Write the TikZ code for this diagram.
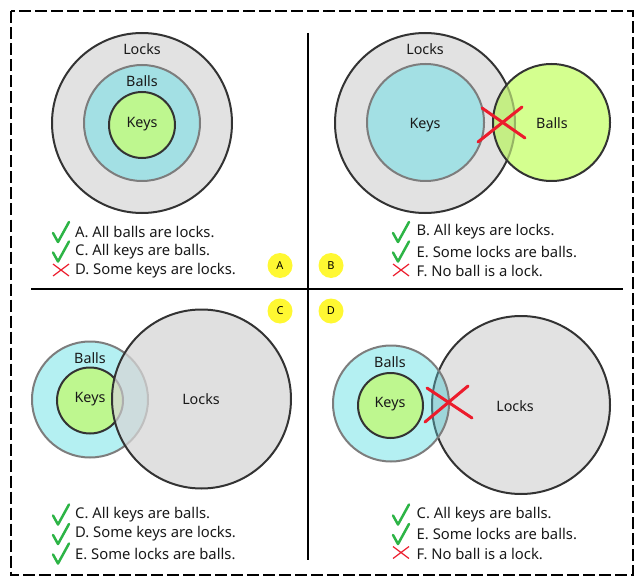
\documentclass[tikz,border=0pt]{standalone}
\usepackage{fontspec}
\setmainfont{Noto Sans}
\definecolor{lockgray}{RGB}{226,226,226}
\definecolor{lockgrayB}{RGB}{214,214,214}
\definecolor{darkline}{RGB}{51,51,51}
\definecolor{midline}{RGB}{125,125,125}
\definecolor{cyanA}{RGB}{163,224,228}
\definecolor{keygreen}{RGB}{190,247,143}
\definecolor{ballgreen}{RGB}{212,255,143}
\definecolor{ovgreen}{RGB}{196,238,132}
\definecolor{ovgreenline}{RGB}{150,180,100}
\definecolor{cyanB}{RGB}{180,240,242}
\definecolor{ovcyan}{RGB}{158,214,218}
\definecolor{ovcyanline}{RGB}{70,110,115}
\definecolor{xred}{RGB}{236,28,44}
\definecolor{chkgreen}{RGB}{45,180,70}
\definecolor{badgeyellow}{RGB}{255,248,50}
\definecolor{txt}{RGB}{25,25,25}
\begin{document}
\begin{tikzpicture}[x=1pt,y=-1pt,
  setc/.style={circle, inner sep=0pt, line width=2pt},
  lbl/.style={inner sep=0pt, text=txt, font=\fontsize{14.3}{16}\selectfont},
  item/.style={anchor=west, inner sep=0pt, text=txt, font=\fontsize{14.8}{17}\selectfont},
  badge/.style={circle, fill=badgeyellow, minimum size=25pt, inner sep=0pt, text=black, font=\bfseries\fontsize{11}{13}\selectfont},
  bigx/.style={xred, line width=3pt, line cap=round},
  divider/.style={black, line width=2pt},
  chk/.pic={\draw[chkgreen, line width=2.5pt, line cap=round, line join=round] (-8,2) -- (-3,11) -- (8,-9);},
  nox/.pic={\draw[xred, line width=1.2pt] (-8,-6) -- (8,6) (-8,6) -- (8,-6);}
]
\useasboundingbox (0,0) rectangle (644,585);
% border
\draw[black, line width=2pt, dash pattern=on 12pt off 4pt] (10.5,11.5) rectangle (633,575);
% dividers
\coordinate (vtop) at (307.5,33);
\coordinate (vbot) at (307.5,560);
\coordinate (hl) at (31,289);
\coordinate (hr) at (623,289);
\draw[divider] (vtop) -- (vbot);
\draw[divider] (hl) -- (hr);

% ---------- top-left ----------
\node[setc, fill=lockgray, draw=darkline, minimum size=180pt] (tlL) at (142,123) {};
\node[setc, fill=cyanA, draw=midline, minimum size=116pt] (tlB) at (142,123) {};
\node[setc, fill=keygreen, draw=darkline, minimum size=66pt] (tlK) at (142,125) {};
\node[lbl] (tlLt) at (142,49) {Locks};
\node[lbl] (tlBt) at (142,81) {Balls};
\node[lbl] (tlKt) at (142,124) {Keys};

% ---------- top-right ----------
\node[setc, fill=lockgray, draw=darkline, minimum size=180pt] (trL) at (425,123) {};
\node[setc, fill=cyanA, draw=midline, minimum size=117pt] (trK) at (425.5,122.5) {};
\node[setc, fill=ballgreen, minimum size=117pt] (trB) at (551.5,122.5) {};
\begin{scope}
  \clip (551.5,122.5) circle[radius=58.5pt];
  \fill[ovgreen] (425,123) circle[radius=90pt];
  \draw[ovgreenline, line width=2pt] (425,123) circle[radius=90pt];
\end{scope}
\draw[darkline, line width=2pt] (trB.center) circle[radius=58.5pt];
\node[lbl] (trLt) at (425,49) {Locks};
\node[lbl] (trKt) at (425,125) {Keys};
\node[lbl] (trBt) at (552,123) {Balls};
\draw[bigx] (482,108) -- (525,138);
\draw[bigx] (478,142) -- (522,107);

% ---------- bottom-left ----------
\node[setc, fill=cyanB, draw=midline, minimum size=116pt] (blB) at (90,399.5) {};
\node[setc, fill=keygreen, draw=darkline, minimum size=66pt] (blK) at (90,400.5) {};
\node[setc, fill=lockgrayB, fill opacity=0.75, draw=darkline, minimum size=179pt] (blL) at (201.5,399) {};
\node[lbl] (blBt) at (90,358) {Balls};
\node[lbl] (blKt) at (90,399) {Keys};
\node[lbl] (blLt) at (201,399) {Locks};

% ---------- bottom-right ----------
\node[setc, fill=lockgray, draw=darkline, minimum size=178pt] (brL) at (521,405) {};
\node[setc, fill=cyanB, minimum size=116pt] (brB) at (391,403.5) {};
\begin{scope}
  \clip (521,405) circle[radius=89pt];
  \fill[ovcyan] (391,403.5) circle[radius=58pt];
\end{scope}
\begin{scope}
  \clip (391,403.5) circle[radius=58pt];
  \draw[ovcyanline, line width=2pt] (521,405) circle[radius=89pt];
\end{scope}
\draw[midline, line width=2pt] (brB.center) circle[radius=58pt];
\node[setc, fill=keygreen, draw=darkline, minimum size=65pt] (brK) at (390.5,405.5) {};
\node[lbl] (brBt) at (390,362) {Balls};
\node[lbl] (brKt) at (390,404) {Keys};
\node[lbl] (brLt) at (515,406) {Locks};
\draw[bigx] (427,388) -- (472,418);
\draw[bigx] (468,386) -- (425,422);

% ---------- statements ----------
\pic at (61,231) {chk};
\pic at (61,250.5) {chk};
\pic at (61,270) {nox};
\node[item] (tl1) at (75,232) {A. All balls are locks.};
\node[item] (tl2) at (75,251.5) {C. All keys are balls.};
\node[item] (tl3) at (75,271) {D. Some keys are locks.};

\pic at (401,231) {chk};
\pic at (401,250.5) {chk};
\pic at (401,270) {nox};
\node[item] (tr1) at (416.5,232) {B. All keys are locks.};
\node[item] (tr2) at (416.5,251.5) {E. Some locks are balls.};
\node[item] (tr3) at (416.5,271) {F. No ball is a lock.};

\pic at (61,513.5) {chk};
\pic at (61,533) {chk};
\pic at (61,552.5) {chk};
\node[item] (bl1) at (75,514.5) {C. All keys are balls.};
\node[item] (bl2) at (75,534) {D. Some keys are locks.};
\node[item] (bl3) at (75,553.5) {E. Some locks are balls.};

\pic at (401,513.5) {chk};
\pic at (401,533) {chk};
\pic at (401,552.5) {nox};
\node[item] (br1) at (416.5,514.5) {C. All keys are balls.};
\node[item] (br2) at (416.5,534) {E. Some locks are balls.};
\node[item] (br3) at (416.5,553.5) {F. No ball is a lock.};

% ---------- badges ----------
\node[badge] (bA) at (280,265.5) {A};
\node[badge] (bB) at (331,265.5) {B};
\node[badge] (bC) at (280,311) {C};
\node[badge] (bD) at (331,311) {D};
\end{tikzpicture}
\end{document}
